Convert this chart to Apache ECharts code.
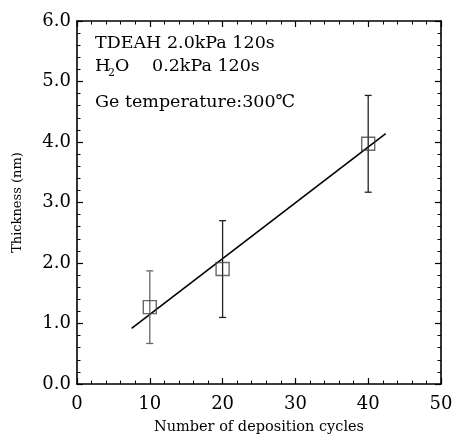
<!DOCTYPE html>
<html><head><meta charset="utf-8">
<script src="https://cdn.jsdelivr.net/npm/echarts@6/dist/echarts.min.js"></script>
<style>html,body{margin:0;padding:0;background:#fff}#c{width:452px;height:434px}</style>
</head><body><div id="c"></div>
<script>
var cycles = [10, 20, 40];
var thickness = [1.27, 1.90, 3.97];
var errLow = [0.67, 1.10, 3.17];
var errHigh = [1.87, 2.70, 4.77];
var fitX = [7.5, 42.4];
var fitY = [0.92, 4.14];
var xTicks = [0, 10, 20, 30, 40, 50];
var yTicks = [0.0, 1.0, 2.0, 3.0, 4.0, 5.0, 6.0];

var FONT = '"DejaVu Serif", "Liberation Serif", serif';
var chart = echarts.init(document.getElementById('c'));
function axisBase(pos, isX, showLabel) {
  return {
    type: 'value', position: pos,
    min: isX ? xTicks[0] : yTicks[0],
    max: isX ? xTicks[xTicks.length-1] : yTicks[yTicks.length-1],
    interval: isX ? xTicks[1] - xTicks[0] : yTicks[1] - yTicks[0],
    axisLine: {show: true, onZero: false, lineStyle: {color: '#000', width: 1.6}},
    axisTick: {show: true, inside: true, length: 6, lineStyle: {color: '#000', width: 1.2}},
    minorTick: {show: true, splitNumber: 5, length: 3.5, lineStyle: {color: '#000', width: 1}},
    splitLine: {show: false},
    axisLabel: {show: showLabel, color: '#000', fontFamily: FONT, fontSize: 18, margin: isX ? 11 : 6,
      formatter: function (v) { return isX ? String(v) : v.toFixed(1); }}
  };
}
var xb = axisBase('bottom', true, true);
xb.name = 'Number of deposition cycles';
xb.nameLocation = 'middle'; xb.nameGap = 36;
xb.nameTextStyle = {color: '#000', fontFamily: FONT, fontSize: 14.5};
var yl = axisBase('left', false, true);
yl.name = 'Thickness (nm)';
yl.nameLocation = 'middle'; yl.nameGap = 53;
yl.nameTextStyle = {color: '#000', fontFamily: FONT, fontSize: 13};

var T = {fontFamily: FONT, fontSize: 17.5, fill: '#000', verticalAlign: 'middle'};
function txt(x, y, s, extra) {
  var st = Object.assign({text: s, x: x, y: y}, T, extra || {});
  return {type: 'text', style: st, z: 10};
}
chart.setOption({
  animation: false,
  backgroundColor: '#fff',
  grid: {left: 77, right: 11, top: 21, bottom: 50, outerBoundsMode: 'none', containLabel: false},
  xAxis: [xb, axisBase('top', true, false)],
  yAxis: [yl, axisBase('right', false, false)],
  graphic: [
    txt(95, 43, 'TDEAH 2.0kPa 120s'),
    txt(95, 66, 'H'),
    txt(108, 73, '2', {fontSize: 11}),
    txt(115, 66, 'O'),
    txt(152, 66, '0.2kPa 120s'),
    txt(95, 102, 'Ge temperature:300\u2103')
  ],
  series: [{
    type: 'line',
    data: fitX.map(function (x, i) { return [x, fitY[i]]; }),
    symbol: 'none',
    lineStyle: {color: '#000', width: 1.6},
    z: 3
  }, {
    type: 'custom',
    data: cycles.map(function (x, i) { return [x, errLow[i], errHigh[i]]; }),
    renderItem: function (params, api) {
      var lo = api.coord([api.value(0), api.value(1)]);
      var hi = api.coord([api.value(0), api.value(2)]);
      var w = 3.5;
      var st = {stroke: params.dataIndex === 0 ? '#666' : '#222', lineWidth: 1.3};
      return {type: 'group', children: [
        {type: 'line', shape: {x1: lo[0], y1: lo[1], x2: hi[0], y2: hi[1]}, style: st},
        {type: 'line', shape: {x1: lo[0]-w, y1: lo[1], x2: lo[0]+w, y2: lo[1]}, style: st},
        {type: 'line', shape: {x1: hi[0]-w, y1: hi[1], x2: hi[0]+w, y2: hi[1]}, style: st}
      ]};
    },
    z: 4
  }, {
    type: 'scatter',
    data: cycles.map(function (x, i) { return [x, thickness[i]]; }),
    symbol: 'rect', symbolSize: 13,
    itemStyle: {color: 'rgba(0,0,0,0)', borderColor: '#444', borderWidth: 1.4},
    z: 5
  }]
});
</script></body></html>
